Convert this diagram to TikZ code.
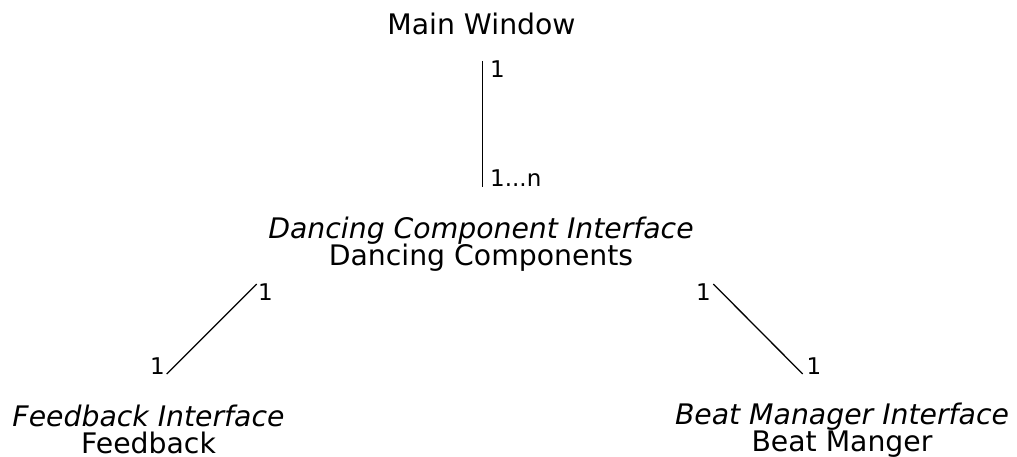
\documentclass[tikz,border=0pt]{standalone}
\usepackage{fontspec}
\setmainfont{DejaVu Sans}
\begin{document}
\begin{tikzpicture}[x=1pt,y=-1pt,
  title/.style={inner sep=0pt,anchor=base,font=\fontsize{28.3}{27}\selectfont},
  ititle/.style={title,font=\fontsize{28.3}{27}\selectfont\itshape},
  mult/.style={inner sep=0pt,anchor=base west,font=\fontsize{23}{27}\selectfont},
  link/.style={line width=1.3pt}]
\useasboundingbox (0,0) rectangle (1017,457);
% texts
\node[title] (main) at (481.5,35) {Main Window};
\node[ititle] (dci) at (481,238) {Dancing Component Interface};
\node[title] (dc) at (481,265.5) {Dancing Components};
\node[ititle] (fi) at (148.5,426.7) {Feedback Interface};
\node[title] (fb) at (148.5,453.5) {Feedback};
\node[ititle] (bmi) at (842,424.3) {Beat Manager Interface};
\node[title] (bm) at (842,451.7) {Beat Manger};
% connector ends
\coordinate (mtop) at (482.3,61);
\coordinate (mbot) at (482.3,187);
\coordinate (ltop) at (256.7,284);
\coordinate (lbot) at (166.7,374);
\coordinate (rtop) at (713.3,284);
\coordinate (rbot) at (802.7,374);
% connectors
\draw[link] (mtop) -- (mbot);
\draw[link] (ltop) -- (lbot);
\draw[link] (rtop) -- (rbot);
% multiplicities
\node[mult] (m1) at (490,78) {1};
\node[mult] (m2) at (490,187) {1...n};
\node[mult] (l1) at (258,300.7) {1};
\node[mult] (l2) at (150,374) {1};
\node[mult] (r1) at (696,300.7) {1};
\node[mult] (r2) at (806.5,374) {1};
\end{tikzpicture}
\end{document}
